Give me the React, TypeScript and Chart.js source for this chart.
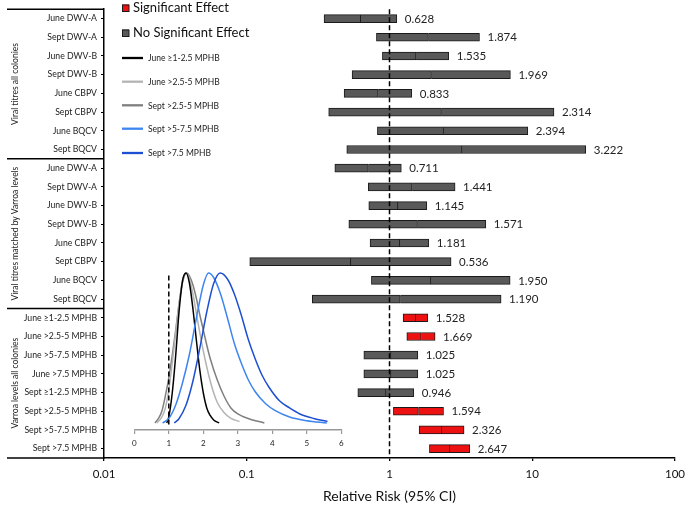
import React, { useEffect, useRef } from 'react';
import { Chart, registerables } from 'chart.js';

Chart.register(...registerables);

// ---------- data ----------
const categories = [
  'June DWV-A', 'Sept DWV-A', 'June DWV-B', 'Sept DWV-B', 'June CBPV', 'Sept CBPV', 'June BQCV', 'Sept BQCV',
  'June DWV-A', 'Sept DWV-A', 'June DWV-B', 'Sept DWV-B', 'June CBPV', 'Sept CBPV', 'June BQCV', 'Sept BQCV',
  'June ≥1-2.5 MPHB', 'June >2.5-5 MPHB', 'June >5-7.5 MPHB', 'June >7.5 MPHB',
  'Sept ≥1-2.5 MPHB', 'Sept >2.5-5 MPHB', 'Sept >5-7.5 MPHB', 'Sept >7.5 MPHB',
];
const groupNames = ['Viral titres all colonies', 'Viral titres matched by Varroa levels', 'Varroa levels all colonies'];
const groupSizes = [8, 8, 8];

const estimates = [0.628, 1.874, 1.535, 1.969, 0.833, 2.314, 2.394, 3.222,
  0.711, 1.441, 1.145, 1.571, 1.181, 0.536, 1.950, 1.190,
  1.528, 1.669, 1.025, 1.025, 0.946, 1.594, 2.326, 2.647];
const lowerCI = [0.348, 0.81, 0.892, 0.547, 0.481, 0.375, 0.823, 0.502,
  0.414, 0.711, 0.716, 0.519, 0.731, 0.105, 0.747, 0.288,
  1.245, 1.322, 0.661, 0.661, 0.6, 1.065, 1.612, 1.904];
const upperCI = [1.125, 4.27, 2.6, 7.03, 1.433, 14.2, 9.31, 23.7,
  1.21, 2.88, 1.826, 4.73, 1.886, 2.7, 7.0, 6.05,
  1.855, 2.087, 1.579, 1.579, 1.48, 2.39, 3.33, 3.65];
const significant = [false, false, false, false, false, false, false, false,
  false, false, false, false, false, false, false, false,
  true, true, false, false, false, true, true, true];
const xTicks = [0.01, 0.1, 1, 10, 100];
const nullValue = 1;

const legendBoxes = ['Significant Effect', 'No Significant Effect'];

// inset density curves (relative risk vs. normalised density)
const curveNames = ['June ≥1-2.5 MPHB', 'June >2.5-5 MPHB', 'Sept >2.5-5 MPHB', 'Sept >5-7.5 MPHB', 'Sept >7.5 MPHB'];
const curveColors = ['#000000', '#b4b4b4', '#7f7f7f', '#3d85f0', '#1e4fd2'];
const curve1X = [0.94, 1.0, 1.1, 1.2, 1.3, 1.4, 1.5, 1.6, 1.7, 1.8, 1.9, 2.0, 2.1, 2.2, 2.3, 2.46];
const curve1Y = [0.0, 0.04, 0.2, 0.45, 0.75, 0.95, 1.0, 0.93, 0.76, 0.55, 0.35, 0.2, 0.1, 0.05, 0.02, 0.0];
const curve2X = [0.65, 0.8, 0.9, 1.0, 1.1, 1.2, 1.3, 1.4, 1.5, 1.6, 1.7, 1.8, 1.9, 2.0, 2.2, 2.4, 2.6, 2.8, 3.05];
const curve2Y = [0.0, 0.04, 0.1, 0.22, 0.4, 0.6, 0.8, 0.95, 1.0, 0.96, 0.86, 0.73, 0.6, 0.48, 0.28, 0.14, 0.07, 0.03, 0.01];
const curve3X = [0.6, 0.7, 0.8, 0.9, 1.0, 1.1, 1.2, 1.3, 1.4, 1.52, 1.6, 1.7, 1.8, 1.9, 2.0, 2.1, 2.2, 2.4, 2.6, 2.8, 3.0, 3.3, 3.77];
const curve3Y = [0.0, 0.03, 0.08, 0.18, 0.3, 0.45, 0.62, 0.8, 0.94, 1.0, 0.98, 0.92, 0.83, 0.72, 0.62, 0.52, 0.43, 0.29, 0.18, 0.1, 0.06, 0.03, 0.0];
const curve4X = [0.82, 1.0, 1.2, 1.4, 1.6, 1.8, 2.0, 2.15, 2.3, 2.5, 2.7, 2.9, 3.1, 3.3, 3.5, 3.8, 4.1, 4.5, 5.0, 5.58];
const curve4Y = [0.0, 0.03, 0.12, 0.27, 0.46, 0.7, 0.92, 1.0, 0.97, 0.86, 0.7, 0.53, 0.4, 0.29, 0.21, 0.13, 0.08, 0.04, 0.015, 0.0];
const curve5X = [1.16, 1.3, 1.5, 1.7, 1.9, 2.1, 2.3, 2.49, 2.7, 2.9, 3.1, 3.3, 3.5, 3.7, 3.9, 4.2, 4.5, 4.8, 5.2, 5.6];
const curve5Y = [0.0, 0.03, 0.12, 0.28, 0.5, 0.74, 0.93, 1.0, 0.96, 0.86, 0.72, 0.56, 0.43, 0.32, 0.24, 0.15, 0.1, 0.06, 0.03, 0.01];
const curvesX = [curve1X, curve2X, curve3X, curve4X, curve5X];
const curvesY = [curve1Y, curve2Y, curve3Y, curve4Y, curve5Y];
const insetTicks = [0, 1, 2, 3, 4, 5, 6];
const insetRefLine = [-0.01, 1.0];

const FONT = 'Lato, "Open Sans", sans-serif';
const RED = '#ee1111';
const GREY = '#595959';
const EDGE = '#1a1a1a';

const forestPlugin = {
  id: 'forestExtras',
  afterDatasetsDraw(chart: any) {
    const { ctx, chartArea, scales } = chart;
    const xs = scales.x;
    const ys = scales.y;
    ctx.save();
    // null line
    const x1 = xs.getPixelForValue(nullValue);
    ctx.strokeStyle = '#000';
    ctx.lineWidth = 1.5;
    ctx.setLineDash([5, 3]);
    ctx.beginPath();
    ctx.moveTo(x1, chartArea.top);
    ctx.lineTo(x1, chartArea.bottom);
    ctx.stroke();
    ctx.setLineDash([]);

    // value labels
    ctx.fillStyle = '#222';
    ctx.font = `11.5px ${FONT}`;
    ctx.textAlign = 'left';
    ctx.textBaseline = 'middle';
    estimates.forEach((v, i) => {
      const x = xs.getPixelForValue(upperCI[i]) + 8;
      const y = ys.getPixelForValue(i);
      ctx.fillText(v.toFixed(3), x, y + 0.5);
    });

    // group separators and labels
    ctx.strokeStyle = '#000';
    ctx.lineWidth = 1.5;
    const left = 7;
    let start = 0;
    const bounds: number[] = [chartArea.top];
    groupSizes.forEach((n, g) => {
      const end = start + n - 1;
      const bottom = end === categories.length - 1
        ? chartArea.bottom
        : (ys.getPixelForValue(end) + ys.getPixelForValue(end + 1)) / 2;
      bounds.push(bottom);
      const top = bounds[g];
      ctx.save();
      ctx.translate(15, (top + bottom) / 2);
      ctx.rotate(-Math.PI / 2);
      ctx.fillStyle = '#222';
      ctx.font = `8.5px ${FONT}`;
      ctx.textAlign = 'center';
      ctx.textBaseline = 'middle';
      ctx.fillText(groupNames[g], 0, 0);
      ctx.restore();
      start += n;
    });
    bounds.forEach((b) => {
      ctx.beginPath();
      ctx.moveTo(left, b);
      ctx.lineTo(chartArea.left, b);
      ctx.stroke();
    });

    // legend: boxes
    const boxColors = [RED, GREY];
    const boxY = [4.5, 29.5];
    ctx.font = `13px ${FONT}`;
    ctx.textBaseline = 'middle';
    ctx.textAlign = 'left';
    legendBoxes.forEach((t, i) => {
      ctx.fillStyle = boxColors[i];
      ctx.fillRect(122, boxY[i], 7, 7);
      ctx.strokeStyle = EDGE;
      ctx.lineWidth = 1;
      ctx.strokeRect(122.5, boxY[i] + 0.5, 6.5, 6.5);
      ctx.fillStyle = '#111';
      ctx.fillText(t, 133, boxY[i] + 3.5);
    });
    // legend: lines
    const lineY = [58, 81.7, 105.3, 128.7, 153];
    ctx.font = `8.5px ${FONT}`;
    curveNames.forEach((t, i) => {
      ctx.strokeStyle = curveColors[i];
      ctx.lineWidth = 2.3;
      ctx.beginPath();
      ctx.moveTo(122, lineY[i]);
      ctx.lineTo(143, lineY[i]);
      ctx.stroke();
      ctx.fillStyle = '#222';
      ctx.fillText(t, 148, lineY[i] + 0.5);
    });
    ctx.restore();
  },
};

export default function App() {
  const mainRef = useRef<HTMLCanvasElement>(null);
  const insetRef = useRef<HTMLCanvasElement>(null);

  useEffect(() => {
    document.body.style.margin = '0';
    Chart.defaults.font.family = FONT;
    const colors = significant.map((s) => (s ? RED : GREY));

    const main = new Chart(mainRef.current as HTMLCanvasElement, {
      type: 'bar',
      data: {
        labels: categories,
        datasets: [
          {
            label: 'lower',
            data: categories.map((_, i) => [lowerCI[i], estimates[i]]),
            backgroundColor: colors,
            borderColor: EDGE,
            borderWidth: 1,
            borderSkipped: false,
            barThickness: 8,
            grouped: false,
          } as any,
          {
            label: 'upper',
            data: categories.map((_, i) => [estimates[i], upperCI[i]]),
            backgroundColor: colors,
            borderColor: EDGE,
            borderWidth: { top: 1, right: 1, bottom: 1, left: 0 },
            borderSkipped: false,
            barThickness: 8,
            grouped: false,
          } as any,
        ],
      },
      options: {
        indexAxis: 'y',
        animation: false,
        responsive: false,
        events: [],
        layout: { padding: { top: 4.5, right: 10, bottom: 0, left: 0 } },
        plugins: { legend: { display: false }, tooltip: { enabled: false } },
        scales: {
          x: {
            type: 'logarithmic',
            position: 'bottom',
            min: 0.01,
            max: 100,
            afterBuildTicks: (s: any) => {
              s.ticks = xTicks.map((v) => ({ value: v, major: true }));
            },
            afterFit: (s: any) => {
              s.height = 48;
              s.paddingLeft = 0;
              s.paddingRight = 0;
            },
            ticks: {
              autoSkip: false,
              maxRotation: 0,
              padding: 6,
              color: '#111',
              font: { size: 11.5 },
              callback: (v: any) => String(v),
            },
            grid: { display: true, drawOnChartArea: false, drawTicks: true, tickLength: 3, color: '#000', lineWidth: 1.3 },
            border: { display: true, color: '#000', width: 1.5 },
            title: {
              display: true,
              text: 'Relative Risk (95% CI)',
              color: '#111',
              font: { size: 14 },
              padding: { top: 0, bottom: 1 },
            },
          },
          y: {
            type: 'category',
            position: 'left',
            offset: true,
            afterFit: (s: any) => {
              s.width = 104;
            },
            ticks: { autoSkip: false, padding: 4, color: '#222', font: { size: 8.7 } },
            grid: { display: true, offset: false, drawOnChartArea: false, tickLength: 3, color: '#000', lineWidth: 1 },
            border: { display: true, color: '#000', width: 1.5 },
          },
        },
      } as any,
      plugins: [forestPlugin],
    });

    const insetDatasets: any[] = [
      {
        label: 'ref',
        data: insetRefLine.map((y) => ({ x: nullValue, y })),
        borderColor: '#000',
        borderWidth: 1.5,
        borderDash: [5, 3],
        showLine: true,
        pointRadius: 0,
        clip: false,
      },
    ];
    // draw blue curves on top, greys underneath
    [4, 3, 0, 1, 2].forEach((k) => {
      insetDatasets.push({
        label: curveNames[k],
        data: curvesX[k].map((x, i) => ({ x, y: curvesY[k][i] })),
        borderColor: curveColors[k],
        borderWidth: 1.5,
        showLine: true,
        pointRadius: 0,
        cubicInterpolationMode: 'monotone',
        clip: false,
      });
    });

    const inset = new Chart(insetRef.current as HTMLCanvasElement, {
      type: 'scatter',
      data: { datasets: insetDatasets },
      options: {
        animation: false,
        responsive: false,
        events: [],
        layout: { padding: { top: 10, left: 10.3, right: 8.7, bottom: 0 } },
        plugins: { legend: { display: false }, tooltip: { enabled: false } },
        scales: {
          x: {
            type: 'linear',
            min: 0,
            max: 6,
            afterBuildTicks: (s: any) => {
              s.ticks = insetTicks.map((v) => ({ value: v }));
            },
            afterFit: (s: any) => {
              s.height = 23;
              s.paddingLeft = 0;
              s.paddingRight = 0;
            },
            ticks: { color: '#222', font: { size: 8 }, padding: 5, maxRotation: 0 },
            grid: { display: true, drawOnChartArea: false, tickLength: 4, color: '#999', lineWidth: 1.2 },
            border: { display: true, color: '#999', width: 1.5 },
          },
          y: { display: false, min: -0.047, max: 1 },
        },
      } as any,
    });

    return () => {
      main.destroy();
      inset.destroy();
    };
  }, []);

  return (
    <div style={{ position: 'relative', width: 685, height: 506, background: '#fff' }}>
      <canvas ref={mainRef} width={685} height={506} style={{ position: 'absolute', left: 0, top: 0, display: 'block' }} />
      <canvas ref={insetRef} width={226} height={190} style={{ position: 'absolute', left: 124, top: 263, display: 'block' }} />
    </div>
  );
}
